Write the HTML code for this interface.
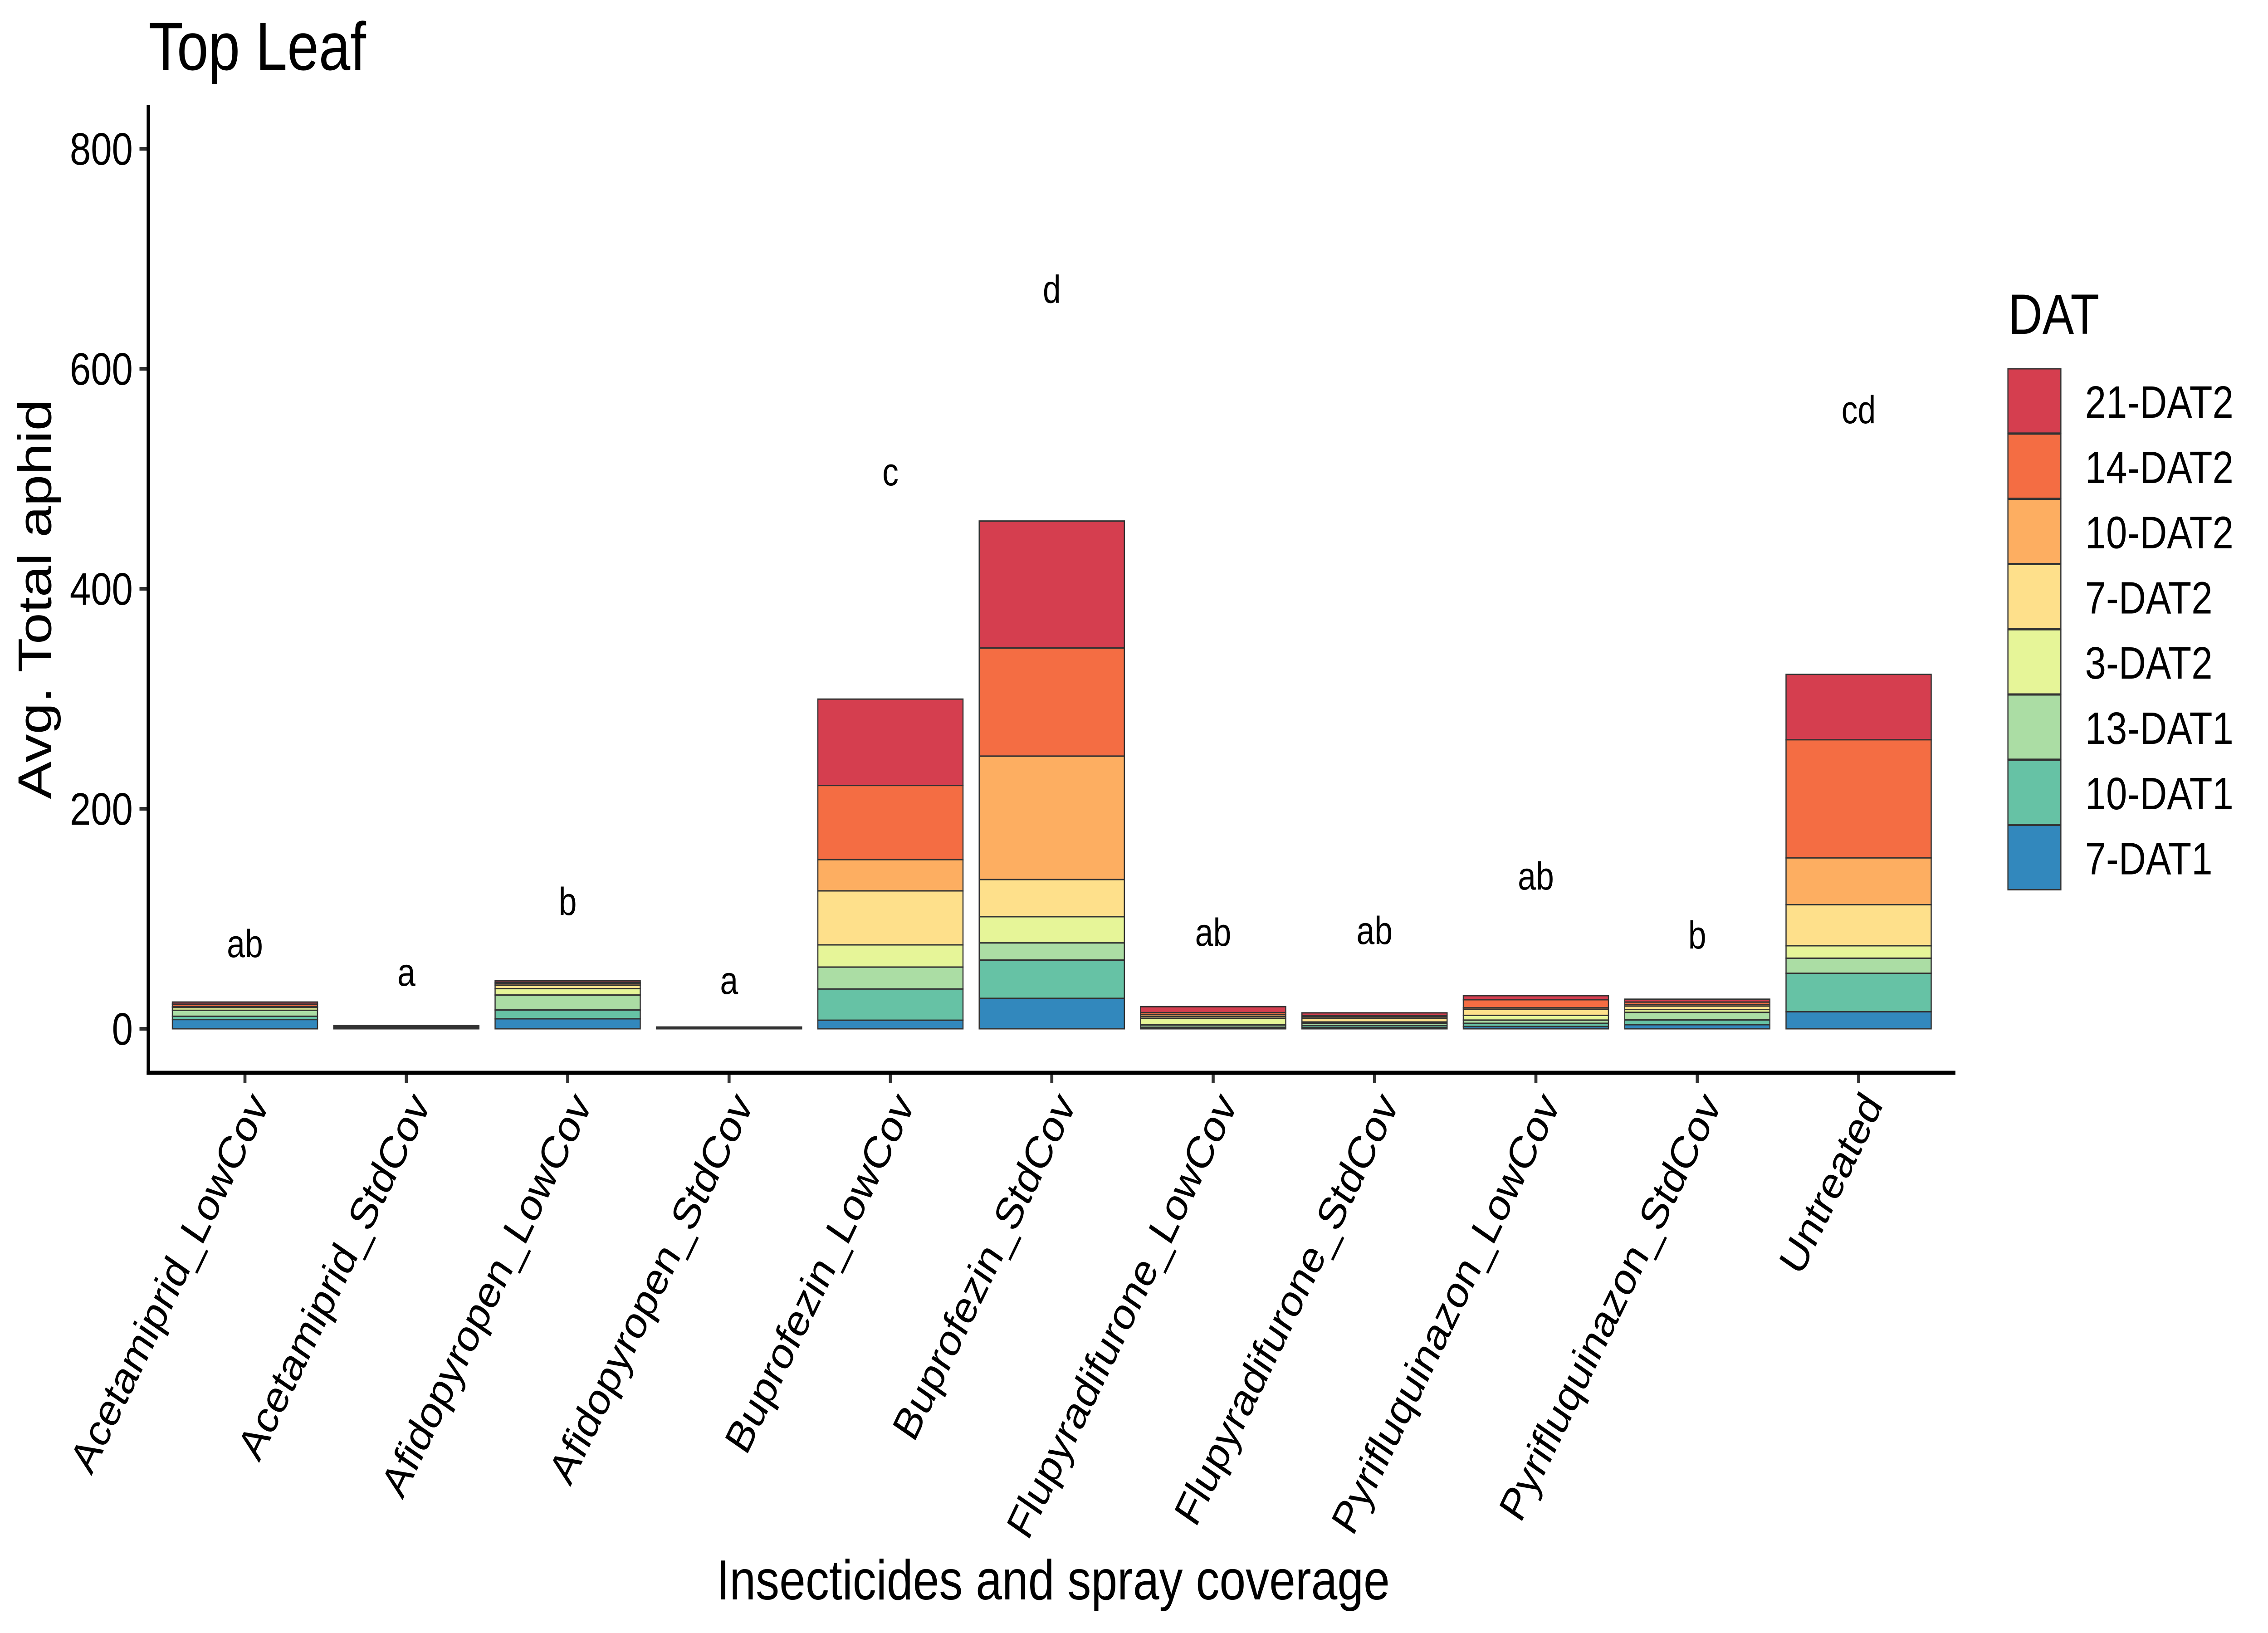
<!DOCTYPE html>
<html lang="en">
<head>
<meta charset="utf-8">
<title>Top Leaf</title>
<style>
html,body{margin:0;padding:0;background:#fff;width:100%;height:100%;overflow:hidden;}
svg{display:block;width:100vw;height:100vh;}
text{font-family:"Liberation Sans",Arial,Helvetica,sans-serif;fill:#000;}
</style>
</head>
<body>
<svg id="chart" xmlns="http://www.w3.org/2000/svg" viewBox="0 0 6000 3600" preserveAspectRatio="none">
  <rect x="0" y="0" width="6000" height="3600" fill="#ffffff"/>
  <text x="393" y="154" font-size="150">Top Leaf</text>
  <text transform="translate(135 1321) rotate(-90)" text-anchor="middle" font-size="124.5">Avg. Total aphid</text>
  <text x="2786" y="3526" text-anchor="middle" font-size="124.7">Insecticides and spray coverage</text>
  <text x="5313" y="736" font-size="125">DAT</text>
  <g id="bars"></g>
  <g id="letters"></g>
  <g id="yticks"></g>
  <g id="xticks"></g>
  <rect x="388" y="231" width="9" height="2138.5" fill="#000"/>
  <rect x="388" y="2360.5" width="4785" height="9" fill="#000"/>
  <g id="legend"></g>
</svg>
<script>
const categories = ["Acetamiprid_LowCov","Acetamiprid_StdCov","Afidopyropen_LowCov","Afidopyropen_StdCov","Buprofezin_LowCov","Buprofezin_StdCov","Flupyradifurone_LowCov","Flupyradifurone_StdCov","Pyrifluquinazon_LowCov","Pyrifluquinazon_StdCov","Untreated"];
const seriesNames = ["7-DAT1","10-DAT1","13-DAT1","3-DAT2","7-DAT2","10-DAT2","14-DAT2","21-DAT2"];
const seriesColors = ["#3288BD","#66C2A5","#ABDDA4","#E6F598","#FEE08B","#FDAE61","#F46D43","#D53E4F"];
const dat1_7  = [8.4,0.4,9.1,0.2,7.8,27.7,0.6,1.2,2.1,3.7,15.5];
const dat1_10 = [3.0,0.4,8.0,0.2,28.4,34.8,0.8,1.8,2.9,4.4,35.0];
const dat1_13 = [5.4,0.4,13.6,0.2,19.9,15.6,2.1,2.2,2.9,6.9,13.7];
const dat2_3  = [2.5,0.4,5.8,0.2,20.2,23.8,6.0,1.0,4.3,2.5,11.3];
const dat2_7  = [0.5,0.3,2.9,0.2,49.1,33.8,1.6,3.2,5.5,3.2,37.3];
const dat2_10 = [0.4,0.3,1.4,0.2,28.4,112.2,1.8,1.4,1.4,1.4,42.6];
const dat2_14 = [2.2,0.4,1.2,0.2,67.4,98.3,1.8,1.2,7.3,2.2,107.4];
const dat2_21 = [1.9,0.4,1.6,0.2,78.5,115.4,5.4,2.5,3.7,2.6,59.4];
const seriesValues = [dat1_7,dat1_10,dat1_13,dat2_3,dat2_7,dat2_10,dat2_14,dat2_21];
const yTickValues = [0,200,400,600,800];
const letterTexts = ["ab","a","b","a","c","d","ab","ab","ab","b","cd"];
const letterValues = [65.2,39.2,103.5,31.8,494,660,75.5,77.1,126.6,73,550.5];

const NS = "http://www.w3.org/2000/svg";
const xScale = function (i) { return 648 + 426.9 * i; };
const yScale = function (v) { return 2268 - 2.425 * v; };
const BAR_W = 384;
const STROKE = "#333333";

function mk(tag, attrs, parent, txt) {
  const el = document.createElementNS(NS, tag);
  for (const k in attrs) el.setAttribute(k, attrs[k]);
  if (txt !== undefined) el.textContent = txt;
  parent.appendChild(el);
  return el;
}

const barsG = document.getElementById("bars");
categories.forEach(function (cat, i) {
  let cum = 0;
  seriesValues.forEach(function (vals, s) {
    const v = vals[i];
    const y1 = yScale(cum + v);
    const y0 = yScale(cum);
    const r = mk("rect", {x: xScale(i) - BAR_W / 2, y: y1, width: BAR_W, height: y0 - y1, fill: seriesColors[s], stroke: STROKE, "stroke-width": 3}, barsG);
    
    
    cum += v;
  });
});

const lettersG = document.getElementById("letters");
letterTexts.forEach(function (t, i) {
  const el = mk("text", {x: xScale(i), y: yScale(letterValues[i]), "text-anchor": "middle", "font-size": 86}, lettersG, t);
  
  
});

const yG = document.getElementById("yticks");
yTickValues.forEach(function (v) {
  const tick = mk("rect", {x: 369, y: yScale(v) - 4, width: 20, height: 8, fill: STROKE}, yG);
  
  
  const lab = mk("text", {x: 351.5, y: yScale(v) + 35, "text-anchor": "end", "font-size": 100}, yG, String(v));
  
  
});

const xG = document.getElementById("xticks");
categories.forEach(function (cat, i) {
  const x = xScale(i);
  const tick = mk("rect", {x: x - 4, y: 2365, width: 8, height: 23, fill: STROKE}, xG);
  
  
  const lx = x + 66, ly = 2436;
  const lab = mk("text", {x: lx, y: ly, "text-anchor": "end", "font-size": 100, transform: "rotate(-60 " + lx + " " + ly + ")"}, xG, cat);
  
  
});

const legendG = document.getElementById("legend");
const legendOrder = seriesNames.map(function (n, i) { return i; }).reverse();
legendOrder.forEach(function (s, row) {
  const top = 812 + 143.8 * row;
  const key = mk("rect", {x: 5312, y: top + 1, width: 140, height: 141.8, fill: seriesColors[s], stroke: STROKE, "stroke-width": 3}, legendG);
  
  
  const lab = mk("text", {x: 5516, y: top + 109, "font-size": 100}, legendG, seriesNames[s]);
  
  
});
</script>
</body>
</html>
